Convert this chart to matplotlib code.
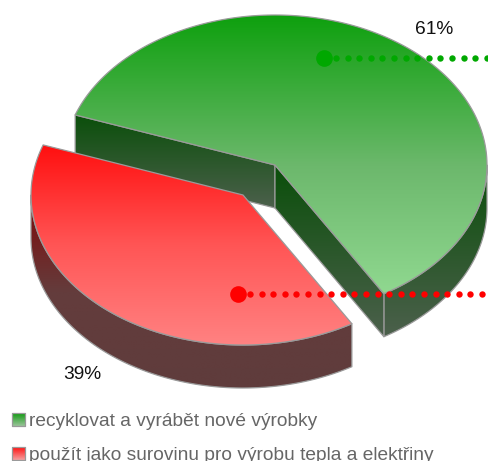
import numpy as np
import matplotlib
matplotlib.use("Agg")
import matplotlib.pyplot as plt
from matplotlib.patches import Polygon
from matplotlib.colors import LinearSegmentedColormap

categories = ["recyklovat a vyrábět nové výrobky", "použít jako surovinu pro výrobu tepla a elektřiny"]
values = [61, 39]
labels = ["61%", "39%"]

plt.rcParams['font.family'] = ['Liberation Sans', 'DejaVu Sans']
W, H = 488, 461
fig = plt.figure(figsize=(W / 100, H / 100), dpi=100)
ax = fig.add_axes([0, 0, 1, 1])
ax.set_xlim(0, W)
ax.set_ylim(H, 0)
ax.axis("off")

A, B, DEPTH = 212, 150, 43
START = 160.5
centers = [(275, 165), (243, 195)]
EDGE = "#9a9a9a"

top_cols = [[(0, "#0ea00e"), (0.54, "#6cb86c"), (1, "#90d890")],
            [(0, "#ff0f0f"), (0.5, "#ff5555"), (1, "#ff8282")]]
wall_cols = [[(0, "#0a4f0a"), (1, "#4c604c")],
             [(0, "#800808"), (0.5, "#643c3c"), (1, "#5f3c3c")]]
dot_cols = ["#00a800", "#ff0000"]


def rim(c, t0, t1, n=200):
    t = np.radians(np.linspace(t0, t1, n))
    return np.column_stack([c[0] + A * np.cos(t), c[1] - B * np.sin(t)])


def grad_poly(pts, cols, z):
    pts = np.asarray(pts)
    y0, y1 = pts[:, 1].min(), pts[:, 1].max()
    x0, x1 = pts[:, 0].min(), pts[:, 0].max()
    cmap = LinearSegmentedColormap.from_list("g", cols)
    im = ax.imshow(np.linspace(0, 1, 256).reshape(-1, 1), cmap=cmap, aspect="auto",
                   extent=[x0, x1, y1, y0], zorder=z, interpolation="bilinear")
    p = Polygon(pts, closed=True, fc="none", ec=EDGE, lw=0.9, zorder=z + 0.1, joinstyle="round")
    ax.add_patch(p)
    im.set_clip_path(Polygon(pts, closed=True, transform=ax.transData))


def wall(a, b, cols, z):
    a, b = np.asarray(a), np.asarray(b)
    pts = np.vstack([a, b, b + [0, DEPTH], a + [0, DEPTH]])
    grad_poly(pts, cols, z)


def outer(c, t0, t1, cols, z):
    r = rim(c, t0, t1)
    pts = np.vstack([r, r[::-1] + [0, DEPTH]])
    grad_poly(pts, cols, z)


sweeps = np.array(values) / sum(values) * 360
# green slice runs clockwise from START; red slice takes the rest
t_green = (START, START - sweeps[0])
t_red = (START - sweeps[0], START - 360)

# green walls
c = centers[0]
L = rim(c, t_green[0], t_green[0], 1)[0]
R = rim(c, t_green[1], t_green[1], 1)[0]
outer(c, t_green[1], 0, wall_cols[0], 1)
wall(L, c, wall_cols[0], 2)
wall(c, R, wall_cols[0], 3)
grad_poly(np.vstack([[c], rim(c, *t_green)]), top_cols[0], 4)

# red walls
c = centers[1]
outer(c, t_red[0], -180, wall_cols[1], 5)
grad_poly(np.vstack([[c], rim(c, *t_red)]), top_cols[1], 6)

# leader lines
anchors = [(324, 58), (238, 294)]
for (x, y), col in zip(anchors, dot_cols):
    ax.plot(x, y, "o", ms=12, color=col, mew=0, zorder=10)
    xs = np.arange(x + 12, W + 1, 11.6)
    ax.plot(xs, [y] * len(xs), "o", ms=4.6, color=col, mew=0, zorder=10)

ax.text(434, 34, labels[0], ha="center", va="baseline", fontsize=13.8, color="#111111", zorder=11)
ax.text(82, 379, labels[1], ha="center", va="baseline", fontsize=13.8, color="#111111", zorder=11)

# legend
leg_y = [419.5, 453.5]
sw_cols = [[(0, "#109a10"), (1, "#9ac49a")], [(0, "#ff1010"), (1, "#f5a0a0")]]
for name, y, cols in zip(categories, leg_y, sw_cols):
    grad_poly([(12, y - 6.5), (25, y - 6.5), (25, y + 6.5), (12, y + 6.5)], cols, 12)
    ax.text(29, y + 6, name, ha="left", va="baseline", fontsize=13.8, color="#666666", zorder=12)

ax.set_xlim(0, W)
ax.set_ylim(H, 0)
fig.savefig("out.png", dpi=100)
